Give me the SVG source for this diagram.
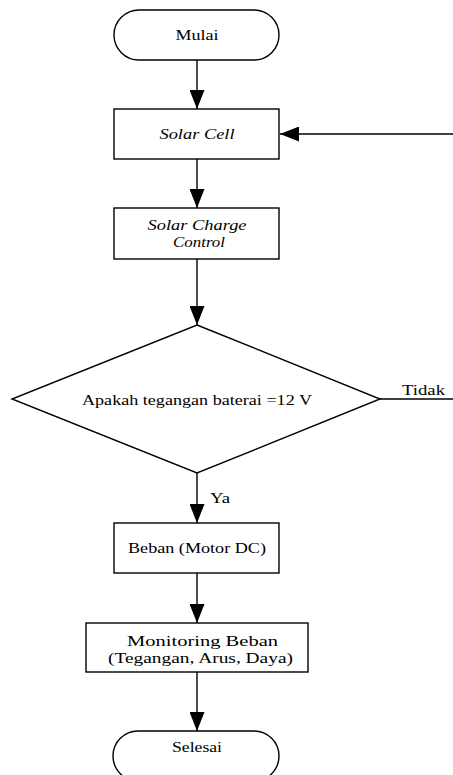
<svg xmlns="http://www.w3.org/2000/svg" width="453" height="775" viewBox="0 0 453 775">
<style>
.s{fill:#fff;stroke:#000;stroke-width:1.4}
.c{fill:none;stroke:#000;stroke-width:1.4}
text{font-family:'Liberation Serif','Times New Roman',Times,serif;font-size:15px;fill:#000}
.m{text-anchor:middle}
.i{font-style:italic}
</style>
<defs>
<marker id="ah" markerUnits="userSpaceOnUse" markerWidth="19" markerHeight="15" refX="19" refY="7.5" orient="auto">
<path d="M0,0 L19,7.5 L0,15 z" fill="#000"/>
</marker>
</defs>
<rect width="453" height="775" fill="#fff"/>
<g id="connectors">
<line class="c" x1="197" y1="60" x2="197" y2="109" marker-end="url(#ah)"/>
<line class="c" x1="197" y1="159" x2="197" y2="208" marker-end="url(#ah)"/>
<line class="c" x1="197" y1="259" x2="197" y2="325" marker-end="url(#ah)"/>
<line class="c" x1="197" y1="473" x2="197" y2="523" marker-end="url(#ah)"/>
<line class="c" x1="197" y1="573" x2="197" y2="623" marker-end="url(#ah)"/>
<line class="c" x1="197" y1="672" x2="197" y2="731" marker-end="url(#ah)"/>
<line class="c" x1="380" y1="399" x2="453" y2="399"/>
<line class="c" x1="453" y1="134" x2="280" y2="134" marker-end="url(#ah)"/>
<text x="402" y="395" textLength="43" lengthAdjust="spacingAndGlyphs">Tidak</text>
<text x="210" y="503" textLength="20" lengthAdjust="spacingAndGlyphs">Ya</text>
</g>
<g id="mulai">
<rect class="s" x="114" y="10" width="165" height="50" rx="25" ry="25"/>
<text class="m" x="197" y="40" textLength="43" lengthAdjust="spacingAndGlyphs">Mulai</text>
</g>
<g id="solar-cell">
<rect class="s" x="114" y="109" width="165" height="50"/>
<text class="m i" x="197" y="139" textLength="75" lengthAdjust="spacingAndGlyphs">Solar Cell</text>
</g>
<g id="solar-charge-control">
<rect class="s" x="114" y="208" width="165" height="51"/>
<text class="m i" x="197" y="230" textLength="99" lengthAdjust="spacingAndGlyphs">Solar Charge</text>
<text class="m i" x="199" y="247" textLength="52" lengthAdjust="spacingAndGlyphs">Control</text>
</g>
<g id="decision">
<polygon class="s" points="197,325 380,399 197,473 12,399"/>
<text class="m" x="197" y="405" textLength="230" lengthAdjust="spacingAndGlyphs">Apakah tegangan baterai =12 V</text>
</g>
<g id="beban">
<rect class="s" x="114" y="523" width="165" height="50"/>
<text class="m" x="197" y="553" textLength="138" lengthAdjust="spacingAndGlyphs">Beban (Motor DC)</text>
</g>
<g id="monitoring">
<rect class="s" x="86" y="623" width="222" height="49"/>
<text class="m" x="202.5" y="646" textLength="151" lengthAdjust="spacingAndGlyphs">Monitoring Beban</text>
<text class="m" x="200.5" y="663" textLength="185" lengthAdjust="spacingAndGlyphs">(Tegangan, Arus, Daya)</text>
</g>
<g id="selesai">
<rect class="s" x="113" y="731" width="166" height="50" rx="25" ry="25"/>
<text class="m" x="197" y="752" textLength="50" lengthAdjust="spacingAndGlyphs">Selesai</text>
</g>
</svg>
